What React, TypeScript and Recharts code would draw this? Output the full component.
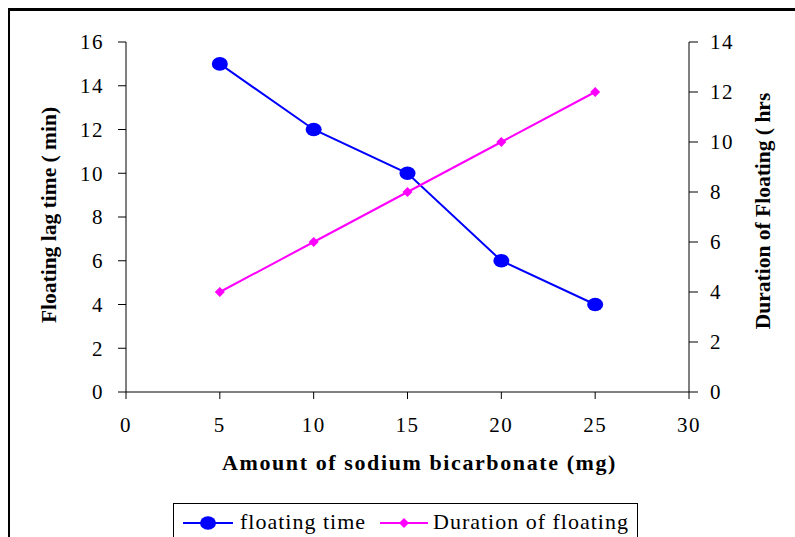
import { LineChart, Line, XAxis, YAxis } from 'recharts';

const amounts = [5, 10, 15, 20, 25];
const floatingTime = [15, 12, 10, 6, 4];
const floatingDuration = [4, 6, 8, 10, 12];
const xTicks = [0, 5, 10, 15, 20, 25, 30];
const leftTicks = [0, 2, 4, 6, 8, 10, 12, 14, 16];
const rightTicks = [0, 2, 4, 6, 8, 10, 12, 14];

const series = [
  { key: 'time', name: 'floating time', color: '#0000ff' },
  { key: 'duration', name: 'Duration of floating', color: '#ff00ff' },
];

const data = amounts.map((a, i) => ({
  amount: a,
  time: floatingTime[i],
  duration: floatingDuration[i],
}));

const FONT = '"Liberation Serif", "Times New Roman", serif';
const tickStyle = { fill: '#000', fontSize: 21, fontFamily: FONT, letterSpacing: 1.5 };
const titleStyle = { fill: '#000', fontSize: 21.5, fontFamily: FONT, fontWeight: 700 };

const BlueDot = (p: any) => <ellipse key={p.index} cx={p.cx} cy={p.cy} rx={8} ry={6.8} fill="#0000ff" />;
const PinkDot = (p: any) => (
  <polygon
    key={p.index}
    points={`${p.cx - 5},${p.cy} ${p.cx},${p.cy - 5} ${p.cx + 5},${p.cy} ${p.cx},${p.cy + 5}`}
    fill="#ff00ff"
  />
);

function LegendBox() {
  return (
    <div
      style={{
        position: 'absolute',
        left: 173,
        top: 503,
        width: 463,
        height: 50,
        border: '1px solid #000',
        background: '#fff',
        fontFamily: FONT,
        fontSize: 22,
        letterSpacing: 1,
      }}
    >
      <svg width={60} height={30} style={{ position: 'absolute', left: 9, top: 4 }}>
        <line x1={0} y1={15} x2={50} y2={15} stroke={series[0].color} strokeWidth={2} />
        <ellipse cx={25} cy={15} rx={8} ry={6.8} fill={series[0].color} />
      </svg>
      <span style={{ position: 'absolute', left: 66, top: 5, whiteSpace: 'nowrap' }}>{series[0].name}</span>
      <svg width={60} height={30} style={{ position: 'absolute', left: 206, top: 4 }}>
        <line x1={0} y1={15} x2={48} y2={15} stroke={series[1].color} strokeWidth={2} />
        <polygon points="19,15 24,10 29,15 24,20" fill={series[1].color} />
      </svg>
      <span style={{ position: 'absolute', left: 259, top: 5, whiteSpace: 'nowrap' }}>{series[1].name}</span>
    </div>
  );
}

export default function App() {
  return (
    <div style={{ position: 'relative', width: 795, height: 537, overflow: 'hidden', background: '#fff' }}>
      <style>{'body{margin:0;overflow:hidden}'}</style>
      <div
        style={{
          position: 'absolute',
          left: 8,
          top: 8,
          width: 900,
          height: 700,
          borderTop: '3px solid #000',
          borderLeft: '2px solid #000',
        }}
      />
      <div style={{ position: 'absolute', left: 0, top: 0 }}>
        <LineChart width={795} height={537} data={data} margin={{ top: 42, right: 46, bottom: 105, left: 66 }}>
          <XAxis
            dataKey="amount"
            type="number"
            domain={[0, 30]}
            ticks={xTicks}
            height={40}
            stroke="#000"
            tickSize={7}
            tickMargin={18}
            tick={tickStyle}
            label={{ value: 'Amount of sodium bicarbonate (mg)', position: 'center', dx: 12, dy: 50, style: { ...titleStyle, fontSize: 22, letterSpacing: 1.6 } }}
          />
          <YAxis
            yAxisId="left"
            domain={[0, 16]}
            ticks={leftTicks}
            width={60}
            stroke="#000"
            tickSize={8}
            tickMargin={14}
            tick={tickStyle}
            label={{ value: 'Floating lag time ( min)', angle: -90, position: 'center', dx: -48, dy: -2, style: titleStyle }}
          />
          <YAxis
            yAxisId="right"
            orientation="right"
            domain={[0, 14]}
            ticks={rightTicks}
            width={60}
            stroke="#000"
            tickSize={9}
            tickMargin={12}
            tick={{ ...tickStyle, textAnchor: 'start' }}
            label={{ value: 'Duration of Floating ( hrs', angle: -90, position: 'center', dx: 43, dy: -6, style: titleStyle }}
          />
          <YAxis
            yAxisId="rightInner"
            orientation="right"
            mirror
            width={0}
            domain={[0, 14]}
            ticks={rightTicks}
            axisLine={false}
            tick={false}
            tickSize={8}
            stroke="#000"
          />
          <Line
            yAxisId="left"
            dataKey={series[0].key}
            name={series[0].name}
            stroke={series[0].color}
            strokeWidth={2}
            dot={BlueDot}
            activeDot={false}
            isAnimationActive={false}
          />
          <Line
            yAxisId="right"
            dataKey={series[1].key}
            name={series[1].name}
            stroke={series[1].color}
            strokeWidth={2}
            dot={PinkDot}
            activeDot={false}
            isAnimationActive={false}
          />
        </LineChart>
      </div>
      <LegendBox />
    </div>
  );
}
